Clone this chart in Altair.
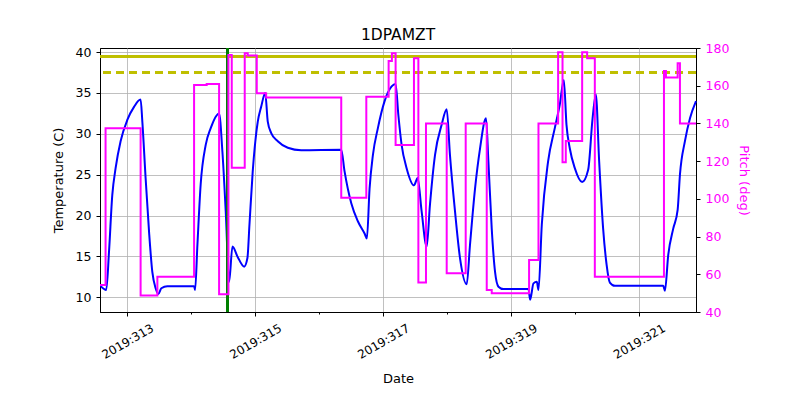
import altair as alt
import pandas as pd

# Temperature (1DPAMZT, deg C) vs day-of-year 2019
temp_day = [312.582, 312.671, 312.714, 312.765, 312.817, 312.895, 313.000, 313.105, 313.208,
            313.235, 313.286, 313.340, 313.391, 313.443, 313.485, 313.532, 313.626, 314.044,
            314.060, 314.096, 314.147, 314.226, 314.304, 314.435, 314.487, 314.539, 314.592,
            314.644, 314.722, 314.827, 314.878, 314.910, 314.961, 315.040, 315.093, 315.156,
            315.196, 315.250, 315.353, 315.509, 315.719, 316.345, 316.397, 316.502, 316.605,
            316.710, 316.746, 316.788, 316.840, 316.918, 317.023, 317.133, 317.195, 317.238,
            317.289, 317.367, 317.482, 317.540, 317.602, 317.681, 317.732, 317.811, 317.915,
            317.994, 318.045, 318.124, 318.202, 318.307, 318.358, 318.437, 318.515, 318.609,
            318.646, 318.698, 318.750, 318.803, 318.881, 319.273, 319.298, 319.351, 319.403,
            319.429, 319.481, 319.579, 319.684, 319.763, 319.825, 319.867, 319.919, 319.997,
            320.112, 320.206, 320.275, 320.326, 320.378, 320.440, 320.494, 320.545, 320.624,
            321.380, 321.406, 321.458, 321.536, 321.605, 321.641, 321.719, 321.798, 321.892]
temp_val = [11.4, 10.9, 15.6, 22.5, 25.8, 29.1, 31.7, 33.3, 34.2,
            31.5, 24.6, 18.0, 13.1, 11.1, 10.4, 11.1, 11.35, 11.35,
            10.9, 16.4, 23.8, 28.65, 30.7, 32.5, 27.8, 20.5, 11.9,
            16.2, 15.0, 13.75, 14.8, 18.9, 25.4, 31.5, 33.3, 35.0,
            31.5, 30.1, 29.1, 28.3, 28.0, 28.05, 25.4, 21.5, 19.3,
            17.8, 17.2, 23.3, 27.4, 30.7, 34.0, 35.8, 36.1, 32.3,
            28.65, 25.8, 23.7, 24.6, 20.5, 16.2, 21.3, 27.4, 31.1,
            33.0, 27.4, 20.5, 14.8, 11.6, 16.4, 23.3, 28.2, 31.9,
            26.6, 18.4, 13.1, 11.3, 11.0, 11.0, 9.7, 11.7, 11.9,
            10.9, 18.9, 26.6, 30.7, 33.6, 36.6, 31.1, 28.2, 25.8,
            24.1, 25.6, 31.9, 34.8, 26.6, 18.4, 14.0, 11.8, 11.4,
            11.4, 10.8, 15.2, 18.4, 20.7, 25.0, 29.1, 31.9, 34.0]

# Pitch (deg), step changes
pitch_day = [312.573, 312.660, 313.208, 313.470, 314.044, 314.241, 314.435, 314.581, 314.633,
             314.836, 314.883, 315.024, 315.171, 316.345, 316.737, 317.086, 317.137, 317.195,
             317.482, 317.551, 317.670, 317.994, 318.291, 318.620, 318.698, 319.282, 319.429,
             319.736, 319.805, 319.856, 320.112, 320.190, 320.310, 321.391, 321.422, 321.605,
             321.641, 321.892]
pitch_val = [54.3, 137.4, 48.7, 58.7, 160.4, 160.9, 49.4, 176.3, 116.5,
             177.2, 176.0, 156.0, 153.8, 100.6, 154.2, 173.1, 177.2, 128.6,
             174.5, 55.6, 140.0, 60.5, 140.0, 51.7, 49.9, 67.6, 140.0,
             177.7, 119.4, 130.7, 177.7, 174.5, 58.7, 167.8, 164.4, 171.9,
             140.0, 140.0]

limit_solid = 39.5
limit_dashed = 37.5
event_day = 314.563

x_ticks = [313, 314, 315, 316, 317, 318, 319, 320, 321]
temp_ticks = [10, 15, 20, 25, 30, 35, 40]
pitch_ticks = [40, 60, 80, 100, 120, 140, 160, 180]

temp_df = pd.DataFrame({"day": temp_day, "temp": temp_val})
pitch_df = pd.DataFrame({"day": pitch_day, "pitch": pitch_val})

FONT = "DejaVu Sans"
x_scale = alt.Scale(domain=[312.573, 321.892], nice=False, zero=False)

x_axis = alt.Axis(
    values=x_ticks,
    title="Date",
    labelExpr="datum.value % 2 == 1 ? '2019:' + datum.value : ''",
    labelAngle=330,
    labelAlign="center",
    labelBaseline="middle",
    labelPadding=25,
    labelFontSize=12,
    tickSize={"condition": {"test": "datum.value % 2 == 1", "value": 4}, "value": 2},
    gridOpacity={"condition": {"test": "datum.value % 2 == 1", "value": 1}, "value": 0},
    grid=True,
    titlePadding=12,
)

temp_line = alt.Chart(temp_df).mark_line(color="#0000ff", strokeWidth=2,
                                         interpolate="monotone").encode(
    x=alt.X("day:Q", scale=x_scale, axis=x_axis),
    y=alt.Y("temp:Q",
            scale=alt.Scale(domain=[8.2, 40.5], nice=False, zero=False),
            axis=alt.Axis(values=temp_ticks, title="Temperature (C)", orient="left",
                          grid=True, tickSize=4, labelPadding=5, titlePadding=10)),
)

rule_solid = alt.Chart(temp_df).mark_rule(color="#bfbf00", strokeWidth=2.2).encode(
    y=alt.datum(limit_solid))
rule_dashed = alt.Chart(temp_df).mark_rule(color="#bfbf00", strokeWidth=2.2,
                                           strokeDash=[8, 5]).encode(y=alt.datum(limit_dashed))
rule_event = alt.Chart(temp_df).mark_rule(color="#008000", strokeWidth=2.4).encode(
    x=alt.datum(event_day))

temp_layer = alt.layer(temp_line, rule_solid, rule_dashed, rule_event)

pitch_line = alt.Chart(pitch_df).mark_line(color="#ff00ff", strokeWidth=2,
                                           interpolate="step-after").encode(
    x=alt.X("day:Q", scale=x_scale, axis=x_axis),
    y=alt.Y("pitch:Q",
            scale=alt.Scale(domain=[40, 180], nice=False, zero=False),
            axis=alt.Axis(values=pitch_ticks, title="Pitch (deg)", orient="right",
                          grid=False, tickSize=4, labelPadding=5, titlePadding=8,
                          labelColor="#ff00ff", titleColor="#ff00ff")),
)

chart = alt.layer(temp_layer, pitch_line).resolve_scale(y="independent").properties(
    width=596,
    height=264,
    background="white",
    title=alt.TitleParams("1DPAMZT", anchor="middle", frame="group", fontSize=15.5,
                          fontWeight="normal", font=FONT, color="black", offset=-1),
    autosize=alt.AutoSizeParams(type="none"),
    padding={"left": 92, "top": 40, "right": 96, "bottom": 80},
).configure_view(
    stroke="black", strokeWidth=1
).configure_axis(
    labelFont=FONT, titleFont=FONT, labelFontSize=12.5, titleFontSize=13,
    titleFontWeight="normal", labelColor="black", titleColor="black",
    domainColor="black", tickColor="black", gridColor="#b0b0b0", gridWidth=0.8,
    domainWidth=1, tickWidth=1,
)

chart.save("out.html", embed_options={"renderer": "svg", "actions": False})
